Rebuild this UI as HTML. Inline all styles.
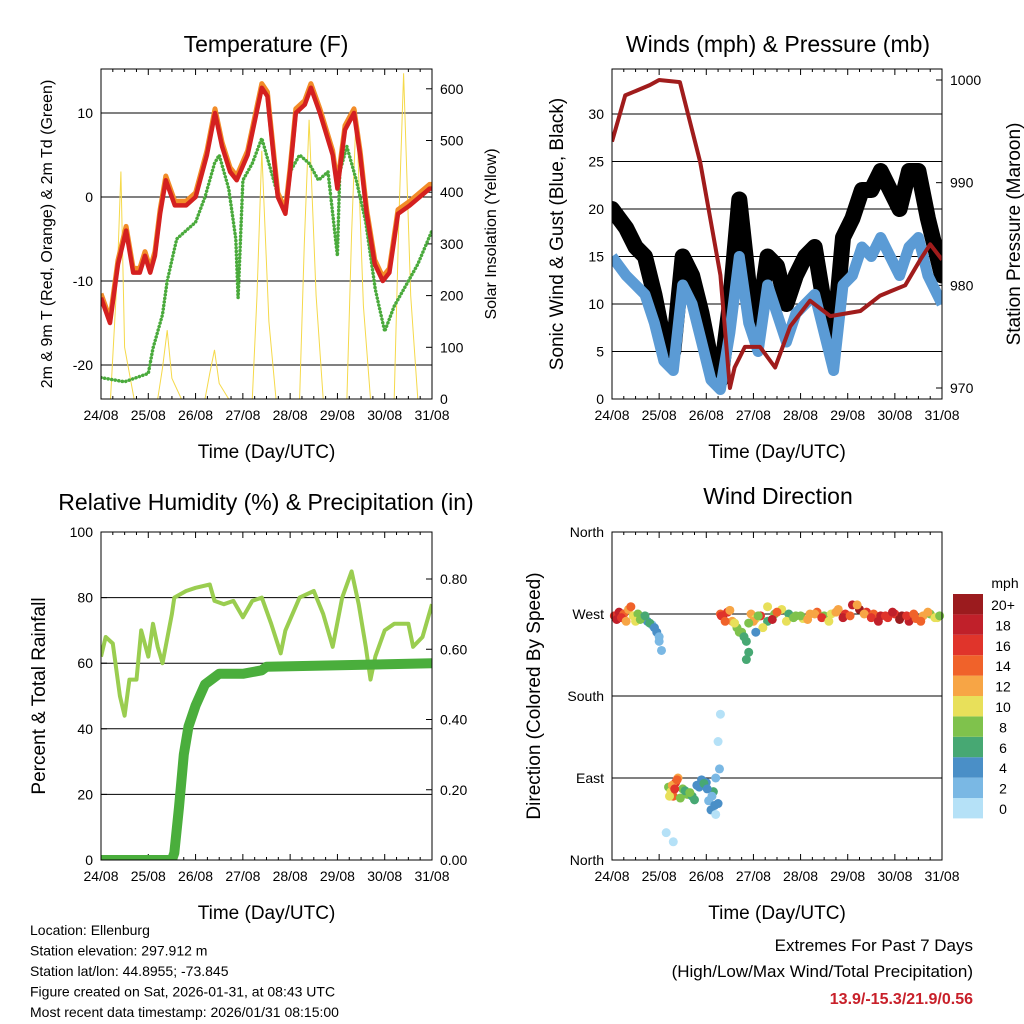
<!DOCTYPE html>
<html><head><meta charset="utf-8"><style>
body{margin:0;background:#fff;}
svg{display:block;font-family:"Liberation Sans",sans-serif;}
</style></head><body>
<svg id="s" width="1024" height="1024" viewBox="0 0 1024 1024"></svg>
<script>
// ---------- DATA ----------
const dayLabels=["24/08","25/08","26/08","27/08","28/08","29/08","30/08","31/08"];
const tempT=[0,0.19,0.36,0.53,0.68,0.82,0.93,1.04,1.14,1.25,1.37,1.56,1.8,2.0,2.24,2.41,2.56,2.73,2.87,3.1,3.4,3.52,3.74,3.9,4.0,4.12,4.31,4.44,4.63,4.9,5.0,5.16,5.35,5.48,5.62,5.79,5.96,6.1,6.28,6.53,6.74,6.95,7.0];
const tempV=[-12,-15,-8,-4,-9,-9,-7,-9,-7,-2,2,-1,-1,0,5,10,6,3,2,5,13,12,0,-2,3,10,11,13,10,5,1,8,10,5,-2,-8,-10,-9,-2,-1,0,1,1];
const dewT=[0,0.5,1,1.1,1.3,1.4,1.6,1.8,2.0,2.2,2.4,2.5,2.7,2.85,2.9,3.0,3.2,3.4,3.7,3.9,4.0,4.2,4.4,4.6,4.8,5.0,5.05,5.2,5.4,5.6,5.8,6.0,6.2,6.5,6.7,7.0];
const dewV=[-21.5,-22,-21,-18,-14,-10,-5,-4,-3,0,4,5,1,-5,-12,2,4,7,1,-2,3,5,4,2,3,-7,3,6,2,-3,-11,-16,-13,-10,-8,-4];
const solarT=[0,0.2,0.35,0.42,0.5,0.7,1.2,1.3,1.4,1.5,1.7,2.2,2.3,2.4,2.5,2.7,3.2,3.3,3.4,3.55,3.7,4.2,4.3,4.4,4.55,4.7,5.2,5.3,5.4,5.55,5.7,6.2,6.3,6.4,6.55,6.7,7.0];
const solarV=[0,0,250,440,100,0,0,60,133,40,0,0,50,95,30,0,0,200,480,150,0,0,300,540,200,0,0,320,560,180,0,0,350,630,200,0,0];
const windT=[0,0.3,0.5,0.7,0.9,1.1,1.3,1.5,1.7,1.9,2.1,2.3,2.5,2.7,2.9,3.1,3.3,3.5,3.7,3.9,4.1,4.3,4.5,4.7,4.9,5.1,5.3,5.5,5.7,5.9,6.1,6.3,6.5,6.7,6.9,7.0];
const windMean=[15,13,12,11,8,4,3,12,10,6,2,1,7,15,8,5,12,9,6,9,10,11,7,3,12,13,16,15,17,15,13,16,17,13,11,10];
const windGust=[20,18,16,15,11,6,5,15,13,9,4,2,10,21,12,8,15,14,10,13,15,16,10,6,17,19,22,22,24,22,20,24,24,19,15,13];
const presT=[0,0.28,0.8,1.0,1.44,1.87,2.3,2.5,2.6,2.82,3.14,3.46,3.78,4.2,4.63,5.27,5.69,6.22,6.54,6.75,7.0];
const presV=[994,998.5,999.5,1000,999.8,992,981,970,972,974,974,972,976,978.5,977,977.5,979,980,982.5,984,982.5];
const rhT=[0,0.1,0.25,0.4,0.5,0.6,0.75,0.85,1.0,1.1,1.2,1.3,1.5,1.55,1.8,2.0,2.3,2.4,2.6,2.8,3.0,3.2,3.4,3.6,3.8,3.9,4.2,4.5,4.7,4.9,5.1,5.3,5.45,5.6,5.7,5.8,6.0,6.2,6.5,6.6,6.8,7.0];
const rhV=[62,68,66,50,44,55,55,70,62,72,65,60,75,80,82,83,84,79,78,79,74,79,80,72,63,70,80,82,75,65,80,88,78,65,55,62,70,72,72,65,68,78];
const prT=[0,1.5,1.55,1.65,1.75,1.85,2.0,2.2,2.5,3.0,3.4,3.5,7.0];
const prV=[0,0,0.02,0.15,0.3,0.38,0.44,0.5,0.53,0.53,0.54,0.55,0.56];
const dirT=[0.05,0.15,0.25,0.35,0.45,0.55,0.65,0.75,0.85,0.95,1.0,1.05,1.2,1.25,1.3,1.35,1.4,1.5,1.6,1.7,1.8,1.9,2.0,2.05,2.1,2.15,2.2,2.3,2.35,2.45,2.55,2.65,2.75,2.85,2.95,3.05,3.15,3.3,3.45,3.6,3.75,3.9,4.05,4.2,4.35,4.5,4.65,4.8,4.95,5.1,5.25,5.4,5.55,5.7,5.85,6.0,6.15,6.3,6.45,6.6,6.75,6.9,2.25,2.3,2.28,1.15,1.3,2.2,
 0.1,0.2,0.3,0.4,0.5,0.6,0.7,0.8,0.9,1.0,1.22,1.28,1.33,1.38,1.45,1.55,1.65,1.75,1.85,1.95,2.02,2.12,2.18,2.25,2.32,2.4,2.5,2.6,2.7,2.8,2.9,3.0,3.1,3.2,3.4,3.5,3.7,3.85,4.0,4.15,4.3,4.45,4.6,4.75,4.9,5.05,5.2,5.35,5.5,5.65,5.8,5.95,6.1,6.25,6.4,6.55,6.7,6.85,6.95,2.85,2.9,3.3,3.05];
const dirV=[268,272,270,275,268,270,265,262,258,250,240,230,80,75,70,85,90,78,72,70,82,88,85,65,55,75,90,270,268,272,262,255,250,240,270,265,268,262,270,275,270,268,265,270,272,268,270,275,270,280,275,272,270,268,266,270,268,262,265,268,270,266,130,160,100,30,20,50,
 264,266,262,278,262,264,268,260,255,245,70,82,78,88,68,76,74,66,80,84,78,70,60,62,268,262,274,260,250,245,228,262,268,255,264,272,262,266,268,264,270,266,262,272,266,268,280,270,266,262,268,272,264,268,270,262,272,266,268,220,260,278,250];
const dirSpd=[16,18,14,13,10,8,5,4,3,4,3,2,8,10,14,16,12,9,8,6,5,4,4,3,4,6,3,15,18,16,12,8,9,6,13,11,16,7,9,10,6,8,10,13,14,8,10,12,16,18,20,16,14,18,16,17,20,18,14,12,8,10,1,0,2,1,1,0,
 18,16,12,14,11,9,7,6,5,3,10,12,16,14,8,6,9,7,5,6,4,3,5,4,17,14,12,10,8,6,7,12,8,10,18,14,11,8,9,13,12,16,10,12,18,15,13,12,17,19,16,18,20,16,15,14,12,10,9,6,8,10,5];
const cbColors=["#b5e1f7","#7ab8e4","#4a8fc7","#47a873","#7fc24c","#e8e05a","#f7a545","#f0622a","#e0342b","#c0202a","#9b1b1e"];
const cbLabels=["0","2","4","6","8","10","12","14","16","18","20+"];

// ---------- HELPERS ----------
const S=document.getElementById('s');const NS="http://www.w3.org/2000/svg";
function el(tag,a,parent){const e=document.createElementNS(NS,tag);for(const k in a)e.setAttribute(k,a[k]);(parent||S).appendChild(e);return e;}
function txt(x,y,s,size,anchor,extra){const t=el('text',Object.assign({x:x,y:y,'font-size':size,'text-anchor':anchor||'middle',fill:'#000'},extra||{}));t.textContent=s;return t;}
function lin(d0,d1,p0,p1){return v=>p0+(v-d0)*(p1-p0)/(d1-d0);}
function pathOf(T,V,fx,fy){return T.map((t,i)=>(i?'L':'M')+fx(t).toFixed(1)+','+fy(V[i]).toFixed(1)).join('');}
function frame(x0,x1,y0,y1,name){const r=el('rect',{x:x0,y:y0,width:x1-x0,height:y1-y0,fill:'none',stroke:'#000','stroke-width':1});}
function xAxis(x0,x1,yb,yt,name){const fx=lin(0,7,x0,x1);dayLabels.forEach((l,i)=>{const x=fx(i);el('line',{x1:x,x2:x,y1:yb,y2:yb-6,stroke:'#000'});el('line',{x1:x,x2:x,y1:yt,y2:yt+6,stroke:'#000'});const t=txt(x,yb+21,l,14);});
 for(let d=0;d<7;d+=0.25){if(d%1===0)continue;const x=fx(d);el('line',{x1:x,x2:x,y1:yb,y2:yb-3,stroke:'#000'});el('line',{x1:x,x2:x,y1:yt,y2:yt+3,stroke:'#000'});}
 const t=txt((x0+x1)/2,yb+59,'Time (Day/UTC)',19);return fx;}
function yTicks(vals,labels,fy,x,side,grid,x0,x1,name){vals.forEach((v,i)=>{const y=fy(v);if(grid)el('line',{x1:x0,x2:x1,y1:y,y2:y,stroke:'#000','stroke-width':1});el('line',{x1:x,x2:x+(side==='l'?6:-6),y1:y,y2:y,stroke:'#000'});const t=txt(side==='l'?x-8:x+8,y+5,labels[i],14,side==='l'?'end':'start');});}
function title(x,y,s,name){const t=txt(x,y,s,23);}
function vtitle(x,y,s,size,name){const t=txt(x,y,s,size,'middle',{transform:`rotate(-90 ${x} ${y})`});}

// ---------- PANEL 1: Temperature ----------
{const x0=101,x1=432,yt=69,yb=399;
 const fy=lin(0,10,197,113);const fs=lin(0,100,399,347.3);
 const fx=xAxis(x0,x1,yb,yt,'temp');
 yTicks([10,0,-10,-20],["10","0","-10","-20"],fy,x0,'l',true,x0,x1,'temp-left');
 yTicks([0,100,200,300,400,500,600],["0","100","200","300","400","500","600"],fs,x1,'r',false,0,0,'temp-right');
 const cp=el('clipPath',{id:'c1'});el('rect',{x:x0,y:yt,width:x1-x0,height:yb-yt},cp);
 const g=el('g',{'clip-path':'url(#c1)'});
 let p=el('path',{d:pathOf(solarT,solarV,fx,fs),fill:'none',stroke:'#f5d94a','stroke-width':1},g);
 p=el('path',{d:pathOf(dewT,dewV,fx,fy),fill:'none',stroke:'#4aaa3c','stroke-width':3.5,'stroke-dasharray':'0.1 3.5','stroke-linecap':'round','stroke-linejoin':'round'},g);
 p=el('path',{d:pathOf(tempT,tempV.map(v=>v+0.5),fx,fy),fill:'none',stroke:'#f28c28','stroke-width':5,'stroke-linejoin':'round'},g);
 p=el('path',{d:pathOf(tempT,tempV,fx,fy),fill:'none',stroke:'#d42020','stroke-width':4.5,'stroke-linejoin':'round'},g);
 frame(x0,x1,yt,yb,'temp-plot-frame');
 title(266,52,'Temperature (F)','temp-title');
 vtitle(52,234,'2m & 9m T (Red, Orange) & 2m Td (Green)',16,'temp-y-title');
 vtitle(496,234,'Solar Insolation (Yellow)',16,'solar-y-title');}

// ---------- PANEL 2: Winds ----------
{const x0=612,x1=942,yt=69,yb=399;
 const fy=lin(0,30,399,114);const fp=lin(970,1000,388,80);
 const fx=xAxis(x0,x1,yb,yt,'wind');
 yTicks([0,5,10,15,20,25,30],["0","5","10","15","20","25","30"],fy,x0,'l',true,x0,x1,'wind-left');
 yTicks([970,980,990,1000],["970","980","990","1000"],fp,x1,'r',false,0,0,'wind-right');
 const cp=el('clipPath',{id:'c2'});el('rect',{x:x0,y:yt,width:x1-x0,height:yb-yt},cp);
 const g=el('g',{'clip-path':'url(#c2)'});
 let p=el('path',{d:pathOf(windT,windGust,fx,fy),fill:'none',stroke:'#000','stroke-width':16,'stroke-linejoin':'round','stroke-linecap':'round'},g);
 p=el('path',{d:pathOf(windT,windMean,fx,fy),fill:'none',stroke:'#5b9bd5','stroke-width':11,'stroke-linejoin':'round'},g);
 p=el('path',{d:pathOf(presT,presV,fx,fp),fill:'none',stroke:'#a01c1c','stroke-width':4,'stroke-linejoin':'round'},g);
 frame(x0,x1,yt,yb,'wind-plot-frame');
 title(778,52,'Winds (mph) & Pressure (mb)','wind-title');
 vtitle(563,234,'Sonic Wind & Gust (Blue, Black)',19,'wind-y-title');
 vtitle(1020,234,'Station Pressure (Maroon)',19,'pressure-y-title');}

// ---------- PANEL 3: RH & Precip ----------
{const x0=101,x1=432,yt=532,yb=860;
 const fy=lin(0,100,860,532);const fr=lin(0,0.8,860,579);
 const fx=xAxis(x0,x1,yb,yt,'rh');
 yTicks([0,20,40,60,80,100],["0","20","40","60","80","100"],fy,x0,'l',true,x0,x1,'rh-left');
 yTicks([0,0.2,0.4,0.6,0.8],["0.00","0.20","0.40","0.60","0.80"],fr,x1,'r',false,0,0,'precip-right');
 const cp=el('clipPath',{id:'c3'});el('rect',{x:x0,y:yt,width:x1-x0,height:yb-yt},cp);
 const g=el('g',{'clip-path':'url(#c3)'});
 let p=el('path',{d:pathOf(rhT,rhV,fx,fy),fill:'none',stroke:'#9acd50','stroke-width':4,'stroke-linejoin':'round'},g);
 p=el('path',{d:pathOf(prT,prV,fx,fr),fill:'none',stroke:'#4aae3c','stroke-width':10,'stroke-linejoin':'round'},g);
 frame(x0,x1,yt,yb,'rh-plot-frame');
 title(266,510,'Relative Humidity (%) & Precipitation (in)','rh-title');
 vtitle(45,696,'Percent & Total Rainfall',19,'rh-y-title');}

// ---------- PANEL 4: Wind Direction ----------
{const x0=612,x1=942,yt=532,yb=860;
 const fy=lin(0,360,860,532);
 const fx=xAxis(x0,x1,yb,yt,'dir');
 yTicks([0,90,180,270,360],["North","East","South","West","North"],fy,x0,'l',true,x0,x1,'dir-left');
 const g=el('g',{});
 dirT.forEach((t,i)=>{const ci=Math.min(10,Math.floor(dirSpd[i]/2));
  const c=el('circle',{cx:fx(t),cy:fy(dirV[i]),r:4.5,fill:cbColors[ci]},g);
  
  });
 frame(x0,x1,yt,yb,'dir-plot-frame');
 title(778,504,'Wind Direction','dir-title');
 vtitle(540,696,'Direction (Colored By Speed)',19,'dir-y-title');
 let t=txt(1005,588,'mph',14);
 cbColors.forEach((c,i)=>{const y=798-i*20.4;const r=el('rect',{x:953,y:y,width:30,height:20.4,fill:c});
  const l=txt(1003,y+16,cbLabels[i],14);});}

// ---------- FOOTER ----------
const info=["Location: Ellenburg","Station elevation: 297.912 m","Station lat/lon: 44.8955; -73.845","Figure created on Sat, 2026-01-31, at 08:43 UTC","Most recent data timestamp: 2026/01/31 08:15:00"];
info.forEach((s,i)=>{const t=txt(30,935+i*20.5,s,14,'start');});
let t=txt(973,951,'Extremes For Past 7 Days',17,'end');
t=txt(973,977,'(High/Low/Max Wind/Total Precipitation)',17,'end');
t=txt(973,1004,'13.9/-15.3/21.9/0.56',16,'end',{fill:'#c8202a','font-weight':'bold'});
</script>
</body></html>
